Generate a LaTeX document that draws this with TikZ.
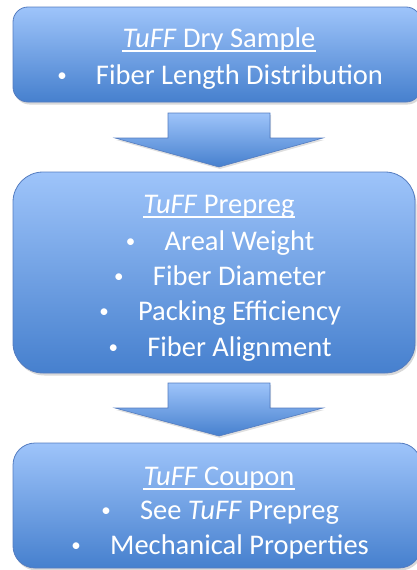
\documentclass[tikz,border=0pt]{standalone}
\usepackage{fontspec}
\setmainfont{Carlito}
\usetikzlibrary{calc, shadows}
\definecolor{boxtop}{RGB}{158,196,250}
\definecolor{boxbot}{RGB}{70,128,206}
\definecolor{boxedge}{RGB}{84,124,192}
\tikzset{
  stagebox/.style={rectangle, draw=boxedge, line width=0.8pt, top color=boxtop, bottom color=boxbot,
    drop shadow={opacity=0.3, shadow xshift=1.5pt, shadow yshift=-2.5pt}},
  stagetext/.style={text=white, font=\fontsize{28.5}{34}\selectfont, inner sep=0pt, anchor=base},
  stageline/.style={white, line width=1.2pt},
  flowarrow/.style={draw=boxedge, line width=0.6pt, top color=boxtop, bottom color=boxbot,
    drop shadow={opacity=0.25, shadow xshift=1pt, shadow yshift=-2pt}},
}
\newcommand{\itemline}[1]{\makebox[14pt][c]{\fontsize{19}{19}\selectfont\raisebox{2.5pt}{\textbullet}}\hspace{27pt}#1}

\begin{document}
\begin{tikzpicture}[x=1pt, y=-1pt]
  \useasboundingbox (0,0) rectangle (417,570);
  \clip (0,0) rectangle (417,570);

  % Stage boxes.
  \node[stagebox, rounded corners=15pt, minimum width=408pt, minimum height=95pt] (dry) at (217,54.5) {};
  \node[stagebox, rounded corners=30pt, minimum width=402pt, minimum height=201pt] (prepreg) at (214,272.5) {};
  \node[stagebox, rounded corners=22pt, minimum width=408pt, minimum height=125pt] (coupon) at (217,505.5) {};

  % Block arrows between the stages.
  \coordinate (a1top) at (219,113);
  \coordinate (a1tip) at (219,167);
  \coordinate (a2top) at (219,383);
  \coordinate (a2tip) at (219,436);
  \path[flowarrow] ($(a1top)+(-51,0)$) -- ++(102,0) -- ++(0,25) -- ++(53,0) -- (a1tip)
    -- ($(a1top)+(-104,25)$) -- ++(53,0) -- cycle;
  \path[flowarrow] ($(a2top)+(-51,0)$) -- ++(102,0) -- ++(0,25) -- ++(53,0) -- (a2tip)
    -- ($(a2top)+(-104,25)$) -- ++(53,0) -- cycle;

  % Texts.
  \node[stagetext] (dry_t) at (219,47) {\textit{TuFF} Dry Sample};
  \node[stagetext] (dry_1) at (219,84) {\itemline{Fiber Length Distribution}};

  \node[stagetext] (pre_t) at (219,213) {\textit{TuFF} Prepreg};
  \node[stagetext] (pre_1) at (219,250) {\itemline{Areal Weight}};
  \node[stagetext] (pre_2) at (219,285) {\itemline{Fiber Diameter}};
  \node[stagetext] (pre_3) at (219,320) {\itemline{Packing Efficiency}};
  \node[stagetext] (pre_4) at (219,356) {\itemline{Fiber Alignment}};

  \node[stagetext] (cou_t) at (219,485) {\textit{TuFF} Coupon};
  \node[stagetext] (cou_1) at (219,519) {\itemline{See \textit{TuFF} Prepreg}};
  \node[stagetext] (cou_2) at (219,554) {\itemline{Mechanical Properties}};

  % Title underlines.
  \foreach \t in {dry_t, pre_t, cou_t}
    \draw[stageline] ($(\t.base west)+(0,4)$) -- ($(\t.base east)+(0,4)$);
\end{tikzpicture}
\end{document}
